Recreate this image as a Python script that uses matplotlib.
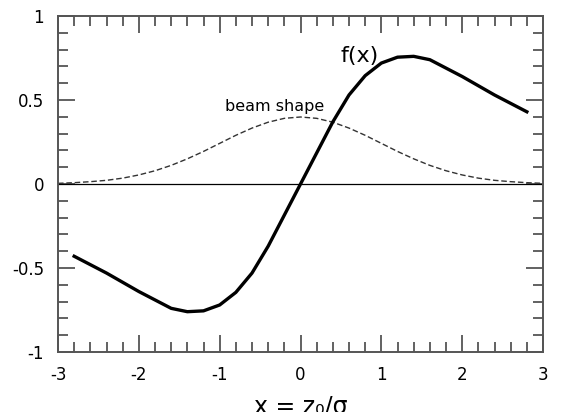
import matplotlib.pyplot as plt
from matplotlib.ticker import MultipleLocator

plt.rcParams['font.family'] = 'DejaVu Sans'
plt.rcParams['axes.unicode_minus'] = False

# f(x) sampled every 0.2 from -2.8 to 2.8
x_values = [-2.8, -2.6, -2.4, -2.2, -2.0, -1.8, -1.6, -1.4, -1.2, -1.0,
            -0.8, -0.6, -0.4, -0.2, 0.0, 0.2, 0.4, 0.6, 0.8, 1.0,
            1.2, 1.4, 1.6, 1.8, 2.0, 2.2, 2.4, 2.6, 2.8]
f_values = [-0.43, -0.48, -0.53, -0.585, -0.64, -0.69, -0.74, -0.76, -0.755, -0.72,
            -0.645, -0.53, -0.37, -0.185, 0.0, 0.185, 0.37, 0.53, 0.645, 0.72,
            0.755, 0.76, 0.74, 0.69, 0.64, 0.585, 0.53, 0.48, 0.43]

# beam profile sampled every 0.2 from -3 to 3
beam_x = [-3.0, -2.8, -2.6, -2.4, -2.2, -2.0, -1.8, -1.6, -1.4, -1.2, -1.0,
          -0.8, -0.6, -0.4, -0.2, 0.0, 0.2, 0.4, 0.6, 0.8, 1.0,
          1.2, 1.4, 1.6, 1.8, 2.0, 2.2, 2.4, 2.6, 2.8, 3.0]
beam_y = [0.004, 0.008, 0.014, 0.022, 0.035, 0.054, 0.079, 0.111, 0.150, 0.194, 0.242,
          0.290, 0.333, 0.368, 0.391, 0.399, 0.391, 0.368, 0.333, 0.290, 0.242,
          0.194, 0.150, 0.111, 0.079, 0.054, 0.035, 0.022, 0.014, 0.008, 0.004]

x_ticks = [-3, -2, -1, 0, 1, 2, 3]
x_tick_labels = ['-3', '-2', '-1', '0', '1', '2', '3']
y_ticks = [-1, -0.5, 0, 0.5, 1]
y_tick_labels = ['-1', '-0.5', '0', '0.5', '1']

fig = plt.figure(figsize=(5.67, 4.12), dpi=100)
ax = fig.add_axes([0.1023, 0.1456, 0.8554, 0.8155])

edge = '#555555'

# Zero line, beam shape and f(x).
ax.axhline(0, color='black', linewidth=0.9)
ax.plot(beam_x, beam_y, color='#333333', linewidth=1.0, linestyle=(0, (4, 2)))
ax.plot(x_values, f_values, color='black', linewidth=2.4)

ax.text(0.5, 0.76, 'f(x)', fontsize=16, ha='left', va='center')
ax.text(-0.32, 0.46, 'beam shape', fontsize=11.5, ha='center', va='center')

ax.set_xlim(-3, 3)
ax.set_ylim(-1, 1)
ax.set_xticks(x_ticks)
ax.set_xticklabels(x_tick_labels)
ax.set_yticks(y_ticks)
ax.set_yticklabels(y_tick_labels)
ax.xaxis.set_minor_locator(MultipleLocator(0.2))
ax.yaxis.set_minor_locator(MultipleLocator(0.1))

ax.tick_params(which='both', direction='in', top=True, right=True,
               color=edge, width=1.3, labelsize=12)
ax.tick_params(which='major', length=12, pad=10)
ax.tick_params(which='minor', length=7)
for spine in ax.spines.values():
    spine.set_color(edge)
    spine.set_linewidth(1.4)

# axis title sits low, partly below the bottom edge
fig.text(0.53, -0.003, 'x = z\u2080/\u03c3', fontsize=17, ha='center', va='baseline')

fig.savefig('out.png', dpi=100)
